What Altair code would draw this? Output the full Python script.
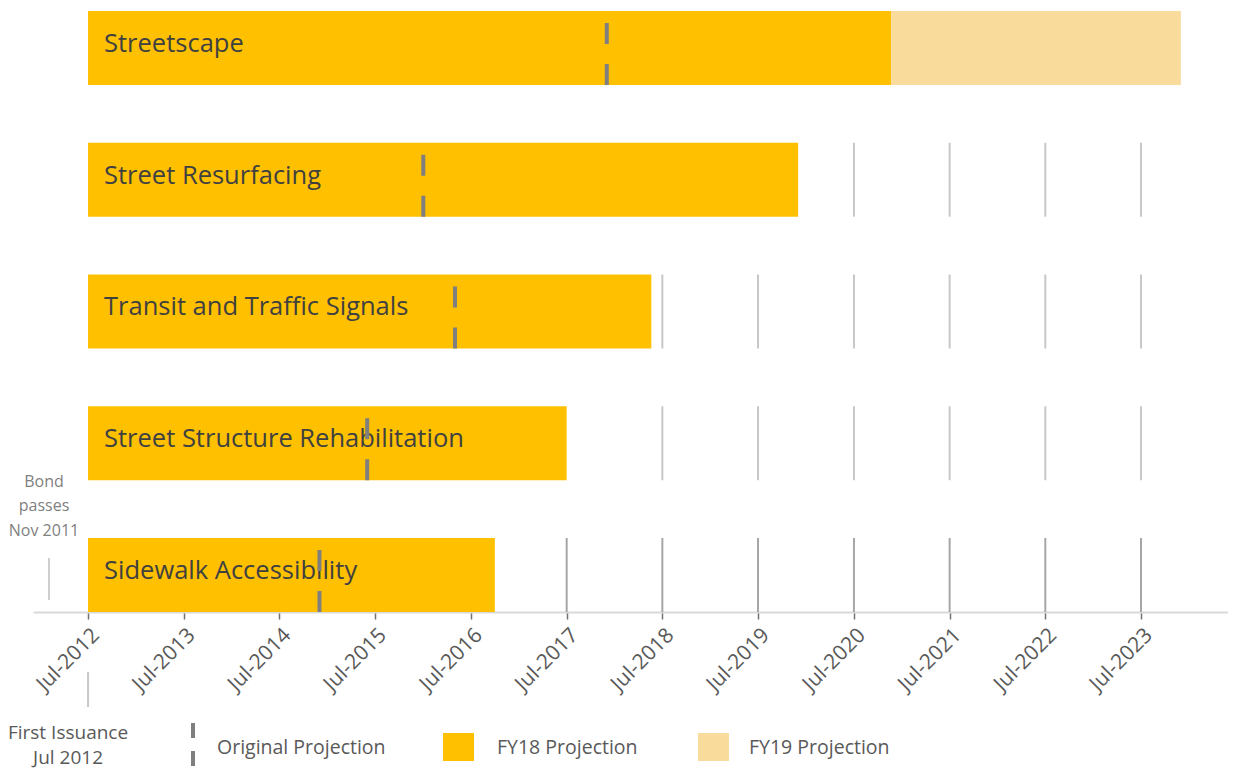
import altair as alt
import pandas as pd

# ---------------- data ----------------
projects = ["Streetscape", "Street Resurfacing", "Transit and Traffic Signals",
            "Street Structure Rehabilitation", "Sidewalk Accessibility"]
bar_start = ["2012-07-01", "2012-07-01", "2012-07-01", "2012-07-01", "2012-07-01"]
fy18_end = ["2020-11-20", "2019-12-01", "2018-05-20", "2017-07-01", "2016-09-30"]
fy19_end = ["2023-11-30", None, None, None, None]
original_projection = ["2017-12-01", "2016-01-01", "2016-05-01", "2015-06-01", "2014-12-01"]
tick_years = list(range(2012, 2024))
grid_years = list(range(2013, 2024))
bond_date = ["2012-02-03"]
bond_label = ["Bond\npasses\nNov 2011"]
first_issuance_date = ["2012-07-01"]
first_issuance_label = ["First Issuance\nJul 2012"]
series = ["FY18 Projection", "FY19 Projection"]
legend_labels = ["Original Projection", "FY18 Projection", "FY19 Projection"]

# ---------------- styling / layout constants ----------------
FONT = "Open Sans"
GOLD = "#FFC000"
LIGHT = "#F9DB9C"
BAR = 0.5617          # bar thickness in row units
YMAX = 4.5844         # y domain top in row units

n = len(projects)
idx = {p: n - 1 - i for i, p in enumerate(projects)}  # bottom row = 0

bars = []
for i, p in enumerate(projects):
    bars.append(dict(project=p, series=series[0], start=bar_start[i], end=fy18_end[i],
                     y0=idx[p], y1=idx[p] + BAR))
    if fy19_end[i] is not None:
        bars.append(dict(project=p, series=series[1], start=fy18_end[i], end=fy19_end[i],
                         y0=idx[p], y1=idx[p] + BAR))
bars = pd.DataFrame(bars)

orig = pd.DataFrame([dict(project=p, date=original_projection[i], y0=idx[p], y1=idx[p] + BAR)
                     for i, p in enumerate(projects)])

# row gridlines: only where they are not covered by the bars
grid_rows = []
for i, p in enumerate(projects):
    last_end = pd.Timestamp(fy19_end[i] if fy19_end[i] is not None else fy18_end[i])
    for yr in grid_years:
        d = pd.Timestamp(f"{yr}-07-01")
        if d > last_end:
            grid_rows.append(dict(project=p, date=f"{yr}-07-01", y0=idx[p], y1=idx[p] + BAR))
grid = pd.DataFrame(grid_rows)

labels = pd.DataFrame([dict(project=p, date=bar_start[i], ymid=idx[p] + BAR / 2)
                       for i, p in enumerate(projects)])

bond = pd.DataFrame(dict(date=bond_date, label=bond_label))
first = pd.DataFrame(dict(date=first_issuance_date, label=first_issuance_label))
leg = pd.DataFrame(dict(label=legend_labels))

xscale = alt.Scale(type="utc",
                   domain=[alt.DateTime(year=2011, month=12, date=4, utc=True),
                           alt.DateTime(year=2024, month=5, date=28, utc=True)])
yscale = alt.Scale(domain=[0, YMAX], nice=False, zero=False)
xaxis = alt.Axis(values=[alt.DateTime(year=y, month=7, date=1, utc=True) for y in tick_years],
                 format="%b-%Y", labelAngle=-45, labelFont=FONT, labelFontSize=21,
                 labelColor="#595959", domainColor="#D9D9D9", domainWidth=2,
                 tickColor="#737373", tickWidth=1.5, tickSize=7, labelPadding=5,
                 grid=False, labelOverlap=False, labelFlush=False, title=None)


def X(field):
    return alt.X(field, type="temporal", scale=xscale, axis=xaxis, title=None)


def Y(field):
    return alt.Y(field, type="quantitative", scale=yscale, axis=None, title=None)


grid_layer = alt.Chart(grid).mark_rule(strokeWidth=2).encode(
    x=X("date"), y=Y("y0"), y2="y1",
    color=alt.condition(alt.datum.project == "Sidewalk Accessibility",
                        alt.value("#A6A6A6"), alt.value("#C8C8C8")))

bar_layer = alt.Chart(bars).mark_rect(opacity=1).encode(
    x=X("start"), x2="end", y=Y("y0"), y2="y1",
    color=alt.Color("series:N", scale=alt.Scale(domain=series, range=[GOLD, LIGHT]), legend=None))

label_layer = alt.Chart(labels).mark_text(
    align="left", baseline="middle", dx=16, dy=-4, font=FONT, fontSize=25.5, color="#404040"
).encode(x=X("date"), y=Y("ymid"), text="project:N")

orig_layer = alt.Chart(orig).mark_rule(strokeWidth=4, strokeDash=[21, 20], color="#7F7F7F").encode(
    x=X("date"), y=Y("y0"), y2="y1")

bond_rule = alt.Chart(bond).mark_rule(strokeWidth=1.5, color="#BFBFBF").encode(
    x=X("date"), y=alt.value(550), y2=alt.value(592))
bond_text = alt.Chart(bond).mark_text(
    align="center", baseline="middle", dx=-5, font=FONT, fontSize=16, color="#7F7F7F",
    lineBreak="\n", lineHeight=24.3
).encode(x=X("date"), y=alt.value(474), text="label:N")

first_rule = alt.Chart(first).mark_rule(strokeWidth=2, color="#C8C8C8").encode(
    x=X("date"), y=alt.value(664), y2=alt.value(699))
first_text = alt.Chart(first).mark_text(
    align="center", baseline="middle", dx=-20, font=FONT, fontSize=19, color="#595959",
    lineBreak="\n", lineHeight=25
).encode(x=X("date"), y=alt.value(724.5), text="label:N")

# legend built from marks
leg_dash = alt.Chart(leg.iloc[[0]]).mark_rule(strokeWidth=4, strokeDash=[15, 13], color="#7F7F7F").encode(
    x=alt.value(160), y=alt.value(715), y2=alt.value(759))
leg_sq1 = alt.Chart(leg.iloc[[1]]).mark_rect(color=GOLD, opacity=1).encode(
    x=alt.value(410), x2=alt.value(441), y=alt.value(725), y2=alt.value(753))
leg_sq2 = alt.Chart(leg.iloc[[2]]).mark_rect(color=LIGHT, opacity=1).encode(
    x=alt.value(665), x2=alt.value(696), y=alt.value(725), y2=alt.value(753))
leg_text_props = dict(align="left", baseline="middle", font=FONT, fontSize=19.5, color="#595959")
leg_t1 = alt.Chart(leg.iloc[[0]]).mark_text(**leg_text_props).encode(
    x=alt.value(184), y=alt.value(739.5), text="label:N")
leg_t2 = alt.Chart(leg.iloc[[1]]).mark_text(**leg_text_props).encode(
    x=alt.value(464), y=alt.value(739.5), text="label:N")
leg_t3 = alt.Chart(leg.iloc[[2]]).mark_text(**leg_text_props).encode(
    x=alt.value(716), y=alt.value(739.5), text="label:N")

chart = alt.layer(
    grid_layer, bar_layer, label_layer, orig_layer,
    bond_rule, bond_text, first_rule, first_text,
    leg_dash, leg_sq1, leg_sq2, leg_t1, leg_t2, leg_t3
).properties(
    width=1195, height=604,
    padding={"left": 25, "top": 0, "right": 0, "bottom": 158},
    autosize=alt.AutoSizeParams(type="none"),
    background="white",
).configure_view(stroke=None)

chart.save("out.html", embed_options={"renderer": "svg", "actions": False})
